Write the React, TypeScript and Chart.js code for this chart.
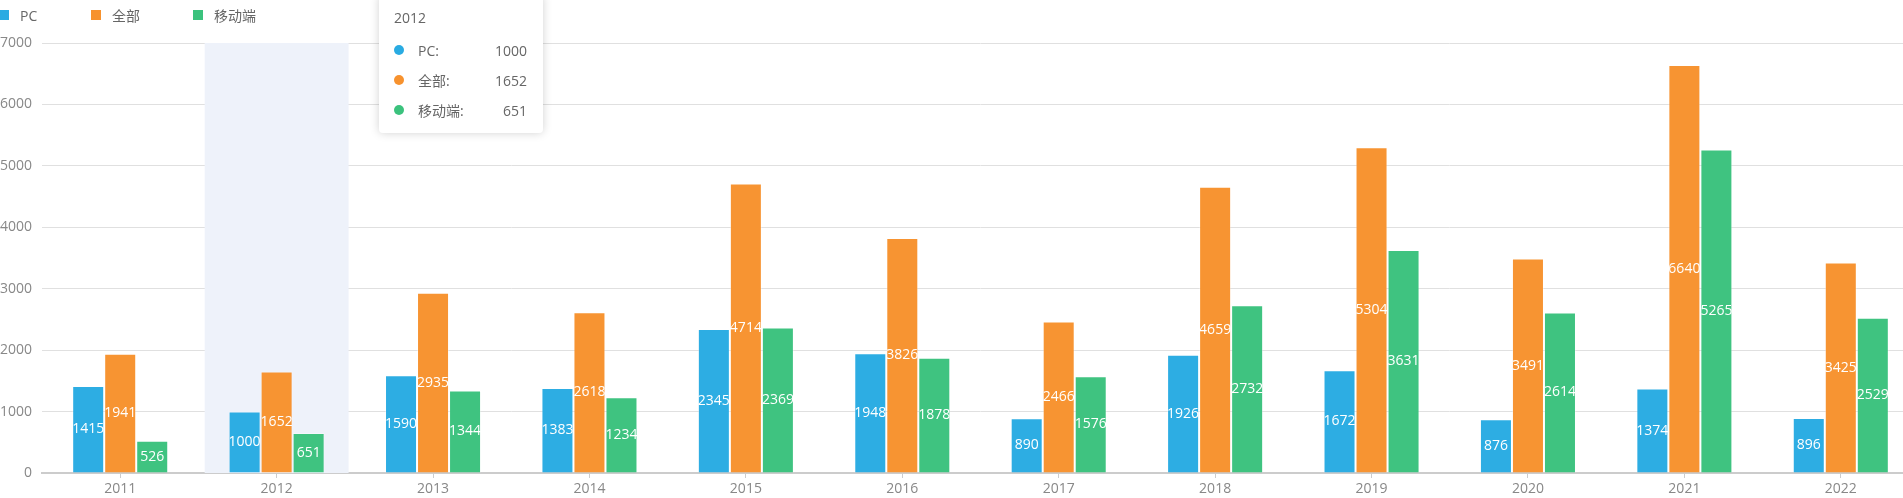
import React, { useEffect, useRef } from "react";
import { Chart, registerables } from "chart.js";

Chart.register(...registerables);

const categories = ["2011", "2012", "2013", "2014", "2015", "2016", "2017", "2018", "2019", "2020", "2021", "2022"];
const seriesNames = ["PC", "全部", "移动端"];
const pcValues = [1415, 1000, 1590, 1383, 2345, 1948, 890, 1926, 1672, 876, 1374, 896];
const allValues = [1941, 1652, 2935, 2618, 4714, 3826, 2466, 4659, 5304, 3491, 6640, 3425];
const mobileValues = [526, 651, 1344, 1234, 2369, 1878, 1576, 2732, 3631, 2614, 5265, 2529];
const yTicks = [0, 1000, 2000, 3000, 4000, 5000, 6000, 7000];
const colors = ["rgba(41,171,226,0.98)", "rgba(247,146,46,0.98)", "rgba(59,194,125,0.98)"];
const solidColors = ["#29abe2", "#f7922e", "#3bc27d"];
const activeIndex = 1;

const FONT = "'Open Sans', 'Noto Sans CJK SC', sans-serif";

const bandPlugin = {
  id: "band",
  beforeDatasetsDraw(chart: any) {
    const x = chart.scales.x;
    const area = chart.chartArea;
    const cw = (area.right - area.left) / categories.length;
    const cx = x.getPixelForValue(activeIndex);
    const ctx = chart.ctx;
    ctx.save();
    ctx.fillStyle = "#eef2fa";
    ctx.fillRect(cx - cw * 0.46, area.top, cw * 0.92, area.bottom - area.top);
    ctx.restore();
  },
};

const labelPlugin = {
  id: "barLabels",
  afterDatasetsDraw(chart: any) {
    const ctx = chart.ctx;
    ctx.save();
    ctx.fillStyle = "#ffffff";
    ctx.font = "14px " + FONT;
    ctx.textAlign = "center";
    ctx.textBaseline = "middle";
    chart.data.datasets.forEach((ds: any, di: number) => {
      const meta = chart.getDatasetMeta(di);
      meta.data.forEach((el: any, i: number) => {
        const y = (el.y + el.base) / 2;
        ctx.fillText(String(ds.data[i]), el.x, y);
      });
    });
    ctx.restore();
  },
};

export default function App() {
  const ref = useRef<HTMLCanvasElement | null>(null);
  useEffect(() => {
    document.body.style.margin = "0";
    document.body.style.overflow = "hidden";
    const chart = new Chart(ref.current as HTMLCanvasElement, {
      type: "bar",
      data: {
        labels: categories,
        datasets: [pcValues, allValues, mobileValues].map((d, i) => ({
          label: seriesNames[i],
          data: d,
          backgroundColor: colors[i],
          borderColor: "rgba(255,255,255,0.35)",
          borderWidth: 1,
          categoryPercentage: 0.614,
          barPercentage: 1,
        })),
      },
      options: {
        animation: false,
        responsive: false,
        maintainAspectRatio: false,
        layout: { padding: { top: 43, right: 16, left: 0, bottom: 0 } },
        plugins: { legend: { display: false }, tooltip: { enabled: false } },
        scales: {
          x: {
            grid: { display: true, offset: false, drawOnChartArea: false, drawTicks: true, tickLength: 5, color: "#cccccc" },
            border: { display: true, color: "#cccccc", width: 2 },
            ticks: { color: "#888888", font: { size: 14, family: FONT }, padding: 3, maxRotation: 0 },
            afterFit(scale: any) {
              scale.height = 25;
            },
          },
          y: {
            min: 0,
            max: 7000,
            afterBuildTicks(scale: any) {
              scale.ticks = yTicks.map((v) => ({ value: v }));
            },
            grid: { color: "#e0e0e0", drawTicks: false, lineWidth: 1 },
            border: { display: false },
            ticks: {
              color: "#888888",
              font: { size: 14, family: FONT },
              padding: 10,
              callback: (v: any) => String(v),
            },
            afterFit(scale: any) {
              scale.width = 42;
            },
          },
        },
      },
      plugins: [bandPlugin, labelPlugin],
    } as any);
    return () => chart.destroy();
  }, []);

  const legendLeft = [-1, 91, 193];
  const rowValues = [pcValues, allValues, mobileValues];

  return (
    <div style={{ position: "absolute", left: 0, top: 0, width: 1935, height: 498, fontFamily: FONT }}>
      <canvas ref={ref} width={1935} height={498} style={{ position: "absolute", left: 0, top: 0 }} />
      {seriesNames.map((n, i) => (
        <div key={n} style={{ position: "absolute", left: legendLeft[i], top: 5, height: 20, display: "flex", alignItems: "center", fontSize: 14, color: "#666" }}>
          <span style={{ display: "inline-block", width: 10, height: 10, background: solidColors[i], marginRight: 11 }} />
          <span>{n}</span>
        </div>
      ))}
      <div
        style={{
          position: "absolute",
          left: 379,
          top: -5,
          width: 164,
          height: 138,
          background: "#fff",
          borderRadius: 4,
          boxShadow: "0 0 10px rgba(0,0,0,0.18)",
          fontSize: 14,
          color: "#666",
        }}
      >
        <div style={{ position: "absolute", left: 15, top: 13, lineHeight: "20px" }}>{categories[activeIndex]}</div>
        {seriesNames.map((n, i) => (
          <div key={n} style={{ position: "absolute", left: 15, right: 16, top: 45 + i * 30, height: 20, display: "flex", alignItems: "center" }}>
            <span style={{ display: "inline-block", width: 10, height: 10, borderRadius: 5, background: solidColors[i], marginRight: 14 }} />
            <span style={{ flex: 1 }}>{n}:</span>
            <span>{rowValues[i][activeIndex]}</span>
          </div>
        ))}
      </div>
    </div>
  );
}
